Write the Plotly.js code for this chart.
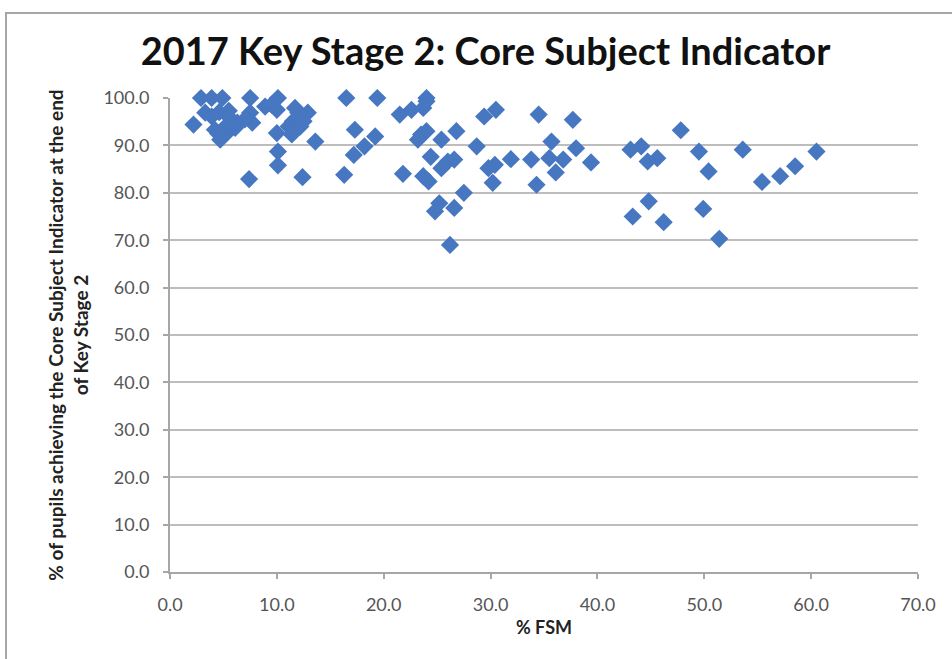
<!DOCTYPE html>
<html>
<head>
<meta charset="utf-8">
<script src="https://cdn.plot.ly/plotly-3.0.1.min.js"></script>
<style>
  html, body { margin: 0; padding: 0; background: #fff; }
  #frame { position: absolute; left: 5px; top: 12px; width: 960px; height: 700px;
           border-top: 2px solid #a6a6a6; border-left: 2px solid #a6a6a6; pointer-events: none; z-index: 5; }
  #chart { width: 952px; height: 659px; }
</style>
</head>
<body>
<div id="frame"></div>
<div id="chart"></div>
<script>
// % FSM (x) and % of pupils achieving the Core Subject Indicator (y)
const fsm = [
  2.2, 2.9, 3.9, 4.9, 7.5, 10.1,
  3.3, 3.9, 4.6, 5.5, 5.6,
  4.2, 4.9, 4.7, 5.5, 6.1, 6.3, 5.2, 4.5,
  7.5, 7.7, 7.0, 8.9, 9.5, 10.0,
  11.7, 12.0, 12.3, 12.9, 11.5, 11.1, 11.7, 12.2, 12.5,
  10.0, 11.4, 13.6, 10.1, 10.1, 7.4, 12.4,
  16.5, 19.4, 24.0, 16.3, 17.3, 19.2, 18.2, 17.2,
  21.5, 22.6, 23.7, 24.0,
  23.5, 24.0, 23.2, 25.4, 26.8, 28.7, 24.4, 26.0, 26.6, 25.4,
  21.8, 23.7, 24.2, 29.4, 30.5, 29.8, 30.4, 30.2, 31.9,
  27.5, 25.2, 24.8, 26.6, 26.2,
  33.8, 34.3, 34.5, 37.7, 35.7, 38.0, 35.5, 36.8, 36.1, 39.4,
  43.1, 44.1, 44.7, 45.6, 47.8, 49.5, 50.4,
  44.8, 43.3, 46.2, 49.9, 51.4,
  53.6, 55.4, 57.1, 58.5, 60.5
];
const csi = [
  94.4, 100, 100, 100, 100, 100,
  96.9, 96.1, 97.0, 97.3, 95.8,
  93.3, 91.8, 91.2, 93.0, 93.7, 94.8, 94.0, 92.5,
  96.9, 94.8, 95.5, 98.2, 98.6, 97.5,
  97.9, 96.9, 96.1, 96.9, 95.1, 94.0, 93.3, 94.0, 95.1,
  92.6, 92.3, 90.8, 88.7, 85.8, 82.9, 83.3,
  100, 100, 100, 83.8, 93.3, 91.9, 89.8, 88.0,
  96.5, 97.5, 97.9, 99.3,
  92.3, 93.0, 91.2, 91.2, 93.0, 89.8, 87.6, 86.6, 87.0, 85.2,
  84.0, 83.5, 82.4, 96.1, 97.5, 85.2, 85.9, 82.1, 87.1,
  80.0, 77.8, 76.1, 76.8, 69.0,
  87.0, 81.7, 96.5, 95.4, 90.8, 89.4, 87.3, 87.0, 84.3, 86.4,
  89.1, 89.8, 86.6, 87.3, 93.2, 88.7, 84.5,
  78.2, 75.0, 73.8, 76.6, 70.3,
  89.1, 82.3, 83.5, 85.6, 88.7
];
const chartTitle = "2017 Key Stage 2: Core Subject Indicator";
const xTitle = "% FSM";
const yTitle = "% of pupils achieving the Core Subject Indicator at the end<br>of Key Stage 2";

const font = "Lato, 'Open Sans', sans-serif";

Plotly.newPlot("chart", [{
  type: "scatter",
  mode: "markers",
  x: fsm,
  y: csi,
  cliponaxis: false,
  marker: { symbol: "diamond", size: 14, color: "#4677c0", line: { width: 0 } },
  hoverinfo: "x+y"
}], {
  width: 952, height: 659,
  margin: { l: 170, r: 34, t: 98, b: 87 },
  paper_bgcolor: "#fff", plot_bgcolor: "#fff",
  showlegend: false,
  title: { text: "<b>" + chartTitle + "</b>", x: 0.51, xanchor: "center", y: 0.922, yanchor: "middle",
           font: { family: font, size: 38, color: "#111" } },
  xaxis: {
    range: [0, 70], dtick: 10, tick0: 0, tickformat: ".1f",
    showgrid: false, zeroline: false,
    showline: true, linecolor: "#a6a6a6", linewidth: 2,
    ticks: "outside", ticklen: 5, tickcolor: "#a6a6a6", tickwidth: 1.5,
    ticklabelstandoff: 10,
    tickfont: { family: font, size: 18, color: "#555" },
    title: { text: "<b>" + xTitle + "</b>", standoff: 8, font: { family: font, size: 18, color: "#222" } }
  },
  yaxis: {
    range: [0, 100], dtick: 10, tick0: 0, tickformat: ".1f",
    showgrid: true, gridcolor: "#bdbdbd", gridwidth: 2, zeroline: false,
    showline: true, linecolor: "#a6a6a6", linewidth: 2,
    ticks: "outside", ticklen: 5, tickcolor: "#a6a6a6", tickwidth: 1.5,
    ticklabelstandoff: 10,
    tickfont: { family: font, size: 18, color: "#555" },
    title: { text: "<b>" + yTitle + "</b>", standoff: 10, font: { family: font, size: 19, color: "#222" } }
  }
}, { displayModeBar: false });
</script>
</body>
</html>
